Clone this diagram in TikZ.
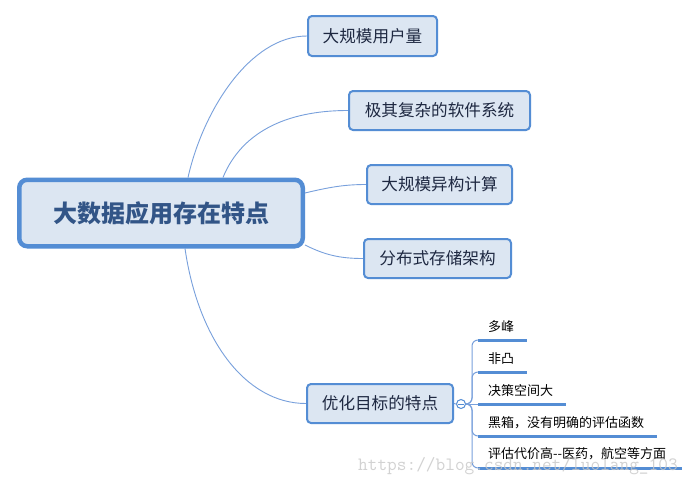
\documentclass[tikz,border=0pt]{standalone}
\usepackage{fontspec}
\newfontfamily\cjk{Noto Sans CJK SC}
\definecolor{bd}{RGB}{84,141,212}
\definecolor{fl}{RGB}{220,230,242}
\definecolor{ln}{RGB}{120,160,220}
\definecolor{tx}{RGB}{30,40,65}
\definecolor{ctx}{RGB}{50,85,135}
\pgfdeclarelayer{bg}
\pgfsetlayers{bg,main}
\begin{document}
\begin{tikzpicture}[x=1pt,y=-1pt,
 topic/.style={draw=bd, fill=fl, line width=2pt, rounded corners=4pt, inner sep=0pt, minimum height=39pt, font=\cjk\fontsize{16.6}{18}\selectfont, text=tx},
 central/.style={draw=bd, fill=fl, line width=4.5pt, rounded corners=8pt, inner sep=0pt, minimum width=283.5pt, minimum height=66.5pt, font=\cjk\bfseries\fontsize{24}{26}\selectfont, text=ctx},
 conn/.style={draw=ln, line width=0.9pt},
 leaf/.style={anchor=base west, inner sep=0pt, font=\cjk\fontsize{13}{15}\selectfont, text=black},
 uline/.style={draw=bd, line width=3pt},
 spine/.style={draw=ln, line width=1pt, rounded corners=6pt},
 wm/.style={anchor=base west, inner sep=0pt, font=\ttfamily\fontsize{18.8}{20}\selectfont, text=black!22, opacity=0.8},
]
\useasboundingbox (0,0) rectangle (699,485);
\begin{pgfonlayer}{bg}
\fill[white] (0,0) rectangle (699,485);
\end{pgfonlayer}

\node[central] (c) at (161,213) {大数据应用存在特点};
\node[topic, minimum width=129pt, minimum height=40pt] (b1) at (372.5,36) {大规模用户量};
\node[topic, minimum width=181pt] (b2) at (439.5,110.5) {极其复杂的软件系统};
\node[topic, minimum width=145pt] (b3) at (439.5,184.5) {大规模异构计算};
\node[topic, minimum width=147pt] (b4) at (437.5,258.5) {分布式存储架构};
\node[topic, minimum width=146pt] (b5) at (380,403.5) {优化目标的特点};

\begin{pgfonlayer}{bg}
\draw[conn] ([xshift=171pt]c.north west) .. controls +(15,-67) and +(-57,0) .. (b1.west);
\draw[conn] ([xshift=206pt]c.north west) .. controls +(15,-37) and +(-73,0) .. (b2.west);
\draw[conn] ([yshift=20pt]c.east) .. controls +(25,-6) and +(-21,0) .. (b3.west);
\draw[conn] ([yshift=-32pt]c.east) .. controls +(20,10) and +(-23,0) .. (b4.west);
\draw[conn] ([xshift=168pt]c.south west) .. controls +(13,90) and +(-61,0) .. (b5.west);
\end{pgfonlayer}

% children of b5
\node[circle, draw=bd, fill=white, line width=1pt, minimum size=9pt, inner sep=0pt] (k) at (461,404) {};
\draw[bd, line width=1pt] ([xshift=-3pt]k.center) -- ([xshift=3pt]k.center);
\draw[conn] (b5.east) -- (k.west);
\coordinate (j) at (472,404);

\coordinate (u1) at (478,340); \coordinate (v1) at (527,340);
\coordinate (u2) at (478,372); \coordinate (v2) at (527,372);
\coordinate (u3) at (478,404); \coordinate (v3) at (566,404);
\coordinate (u4) at (478,436); \coordinate (v4) at (657,436);
\coordinate (u5) at (478,468); \coordinate (v5) at (682,468);

\draw[spine] (k.east) -- (j) |- (u1);
\draw[spine] (k.east) -- (j) |- (u2);
\draw[spine] (k.east) -- (u3);
\draw[spine] (k.east) -- (j) |- (u4);
\draw[spine] (k.east) -- (j) |- (u5);

\draw[uline] (u1) -- (v1);
\draw[uline] (u2) -- (v2);
\draw[uline] (u3) -- (v3);
\draw[uline] (u4) -- (v4);
\draw[uline] (u5) -- (v5);

\node[leaf] (t1) at (488,331) {多峰};
\node[leaf] (t2) at (488,363) {非凸};
\node[leaf] (t3) at (488,395) {决策空间大};
\node[leaf] (t4) at (488,427) {黑箱，没有明确的评估函数};
\node[leaf] (t5) at (488,458) {评估代价高--医药，航空等方面};

\node[wm] (w) at (358,470) {https://blog.csdn.net/luolang\_103};
\end{tikzpicture}
\end{document}
